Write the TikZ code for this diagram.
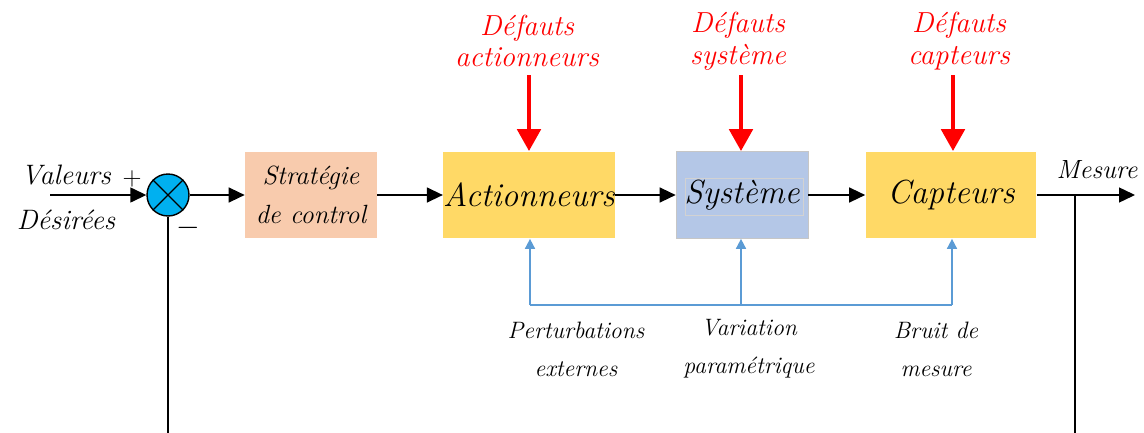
\documentclass[tikz,border=0pt]{standalone}
\usetikzlibrary{arrows.meta}

\definecolor{peach}{HTML}{F8CBAD}
\definecolor{gold}{HTML}{FFD966}
\definecolor{steel}{HTML}{B4C7E7}
\definecolor{sumblue}{HTML}{00B0F0}
\definecolor{linkblue}{HTML}{5B9BD5}

\tikzset{
	block/.style={minimum width=3.42cm, minimum height=1.74cm, inner sep=0pt,
		font=\itshape\fontsize{19}{21}\selectfont},
	sig/.style={-{Triangle[length=3.2mm,width=3mm]}, thick},
	fault/.style={-{Triangle[length=4.4mm,width=4.6mm]}, red, line width=2.8pt},
	pert/.style={-{Triangle[length=2mm,width=2mm]}, linkblue, line width=0.9pt},
	lbl/.style={font=\itshape\fontsize{13.5}{21.5}\selectfont, align=center},
	redlbl/.style={font=\itshape\fontsize{16.5}{18}\selectfont, align=center, text=red}
}

\begin{document}
\begin{tikzpicture}[x=0.02cm, y=-0.02cm]

		\useasboundingbox (0,0) rectangle (1144,433);

		% blocs
		\node[circle, draw, thick, fill=sumblue, minimum size=0.84cm, inner sep=0pt] (sum) at (168,195) {};
		\node[block, fill=peach, minimum width=2.64cm, font=\itshape\fontsize{15}{22}\selectfont, align=center] (strat) at (311,195) {Stratégie\\de control};
		\node[block, fill=gold] (act) at (529,195) {Actionneurs};
		\node[block, fill=steel, draw=gray!45, minimum width=2.64cm] (sys) at (742,195) {Système};
		\node[block, fill=gold] (capt) at (951,195) {Capteurs};
		\draw[gray!35, very thin] (685,178) rectangle (803,215);

		\draw[thick] (sum.north east) -- (sum.south west);
		\draw[thick] (sum.north west) -- (sum.south east);

		% entree / sortie
		\coordinate (in) at (50,195);
		\coordinate (out) at (1135,195);
		\coordinate (br) at (1075,195);
		\coordinate (fbl) at (168,433);
		\coordinate (fbr) at (1075,433);

		\node[font=\itshape\fontsize{16}{18}\selectfont] (val) at (66,175) {Valeurs};
		\node[font=\itshape\fontsize{16}{18}\selectfont] (des) at (66,220) {Désirées};
		\node[font=\fontsize{15}{16}\selectfont] (plus) at (132,179) {+};
		\node[font=\fontsize{16}{16}\selectfont] (minus) at (188,228) {$-$};
		\node[font=\itshape\fontsize{15}{17}\selectfont] (mes) at (1097,170) {Mesure};

		\draw[sig] (in) -- (sum);
		\draw[sig] (sum) -- (strat);
		\draw[sig] (strat) -- (act);
		\draw[sig] (act) -- (sys);
		\draw[sig] (sys) -- (capt);
		\draw[sig] (capt) -- (out);
		\draw[thick] (sum) -- (fbl);
		\draw[thick] (br) -- (fbr);

		% defauts
		\node[redlbl] (dact) at (527,41) {Défauts\\actionneurs};
		\node[redlbl] (dsys) at (738,41) {Défauts\\système};
		\node[redlbl] (dcapt) at (959,41) {Défauts\\capteurs};

		\coordinate (fa) at (529,75);
		\coordinate (fs) at (741,75);
		\coordinate (fc) at (953,75);
		\draw[fault] (fa) -- (fa |- act.north);
		\draw[fault] (fs) -- (fs |- sys.north);
		\draw[fault] (fc) -- (fc |- capt.north);

		% perturbations
		\coordinate (pa) at (530,305);
		\coordinate (pv) at (741,305);
		\coordinate (pc) at (952,305);
		\draw[linkblue, line width=0.9pt] (pa) -- (pc);
		\draw[pert] (pa) -- (pa |- act.south);
		\draw[pert] (pv) -- (pv |- sys.south);
		\draw[pert] (pc) -- (pc |- capt.south);

		\node[lbl] (pext) at (576,349) {Perturbations\\externes};
		\node[lbl] (vpar) at (749,349) {Variation\\paramétrique};
		\node[lbl] (bmes) at (936,349) {Bruit de\\mesure};

	\end{tikzpicture}
\end{document}
